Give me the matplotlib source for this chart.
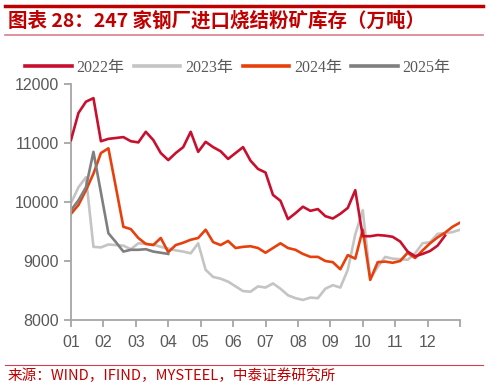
import numpy as np
import matplotlib
matplotlib.use('Agg')
import matplotlib.pyplot as plt
from matplotlib.lines import Line2D

# weekly inventory (10k tonnes), index = week of year
stock_2022 = [11050, 11510, 11700, 11760, 11030, 11070, 11085, 11100, 11030, 11010,
              11190, 11050, 10830, 10710, 10830, 10930, 11190, 10850, 11020, 10930,
              10860, 10730, 10830, 10930, 10700, 10560, 10500, 10120, 10020, 9710,
              9810, 9920, 9850, 9880, 9760, 9720, 9800, 9900, 10200, 9420,
              9420, 9440, 9430, 9410, 9330, 9160, 9080, 9120, 9170, 9260,
              9430]
stock_2023 = [9980, 10250, 10420, 9240, 9230, 9280, 9270, 9260, 9200, 9300,
              9290, 9280, 9240, 9210, 9180, 9160, 9130, 9300, 8850, 8730,
              8700, 8650, 8570, 8490, 8480, 8570, 8550, 8620, 8530, 8420,
              8370, 8340, 8380, 8370, 8530, 8590, 8550, 8850, 9450, 9860,
              8700, 8900, 9070, 9040, 9030, 9020, 9130, 9300, 9320, 9460,
              9470, 9490, 9530]
stock_2024 = [9800, 9950, 10200, 10480, 10830, 10910, 10250, 9580, 9540, 9390,
              9290, 9270, 9390, 9150, 9270, 9310, 9360, 9390, 9530, 9320,
              9270, 9340, 9220, 9240, 9250, 9220, 9140, 9220, 9300, 9220,
              9190, 9120, 9070, 9070, 9000, 8980, 8860, 9100, 9040, 9530,
              8680, 8980, 8990, 8970, 9000, 9140, 9050, 9180, 9300, 9400,
              9480, 9580, 9650]
stock_2025 = [9860, 10030, 10250, 10850, 10160, 9470, 9320, 9160, 9190, 9190,
              9200, 9160, 9140, 9120]

month_labels = ['01', '02', '03', '04', '05', '06', '07', '08', '09', '10', '11', '12', '']
series = [('2022年', stock_2022, '#C8102E'),
          ('2023年', stock_2023, '#C4C4C4'),
          ('2024年', stock_2024, '#E8400C'),
          ('2025年', stock_2025, '#7F7F7F')]

fig = plt.figure(figsize=(4.88, 3.89), dpi=100)
ax = fig.add_axes([71/488, 1-320/389, (460-71)/488, (320-84)/389])

for name, vals, col in series:
    ax.plot(np.arange(len(vals)), vals, color=col, lw=1.9, label=name)
# 2022 drawn on top like the reference
ax.lines[0].set_zorder(3)

ax.set_xlim(0, 52)
ax.set_ylim(8000, 12000)
ax.set_yticks([8000, 9000, 10000, 11000, 12000])
ax.set_xticks(np.arange(13) * 52 / 12)
ax.set_xticklabels(month_labels)

gray = '#A6A6A6'
for s in ['top', 'right']:
    ax.spines[s].set_visible(False)
for s in ['left', 'bottom']:
    ax.spines[s].set_color(gray)
    ax.spines[s].set_linewidth(1.3)
ax.tick_params(axis='both', colors=gray, width=1.3, length=5, labelcolor='#595959',
               labelsize=11.5)
for t in ax.get_xticklabels() + ax.get_yticklabels():
    t.set_family(['Liberation Sans', 'DejaVu Sans'])
ax.tick_params(axis='x', pad=6)

handles = [Line2D([0], [0], color=c, lw=2.6) for _, _, c in series]
leg = fig.legend(handles, [s[0] for s in series], loc='center', bbox_to_anchor=(238/488, 1-68/389),
                 ncol=4, frameon=False, handlelength=2.9, handletextpad=0.3, columnspacing=0.6,
                 prop={'family': ['Liberation Serif', 'Noto Sans CJK SC'], 'size': 11.5})
for t in leg.get_texts():
    t.set_color('#595959')

red = '#C00000'
fig.add_artist(Line2D([5/488, 483/488], [1-6/389, 1-6/389], color=red, lw=2.5))
fig.add_artist(Line2D([5/488, 483/488], [1-35/389, 1-35/389], color='#D9808A', lw=1.2))
fig.add_artist(Line2D([5/488, 483/488], [1-365/389, 1-365/389], color='#D04050', lw=0.8))

fig.text(8/488, 1-21/389, '图表 28：247 家钢厂进口烧结粉矿库存（万吨）', color=red,
         fontsize=14, fontweight='bold', va='center', ha='left',
         family=['Noto Sans CJK SC', 'DejaVu Sans'])
fig.text(8/488, 1-376/389, '来源：WIND，IFIND，MYSTEEL，中泰证券研究所', color=red,
         fontsize=10.5, va='center', ha='left', family=['Noto Sans CJK SC', 'DejaVu Sans'])

fig.savefig('out.png', dpi=100)
